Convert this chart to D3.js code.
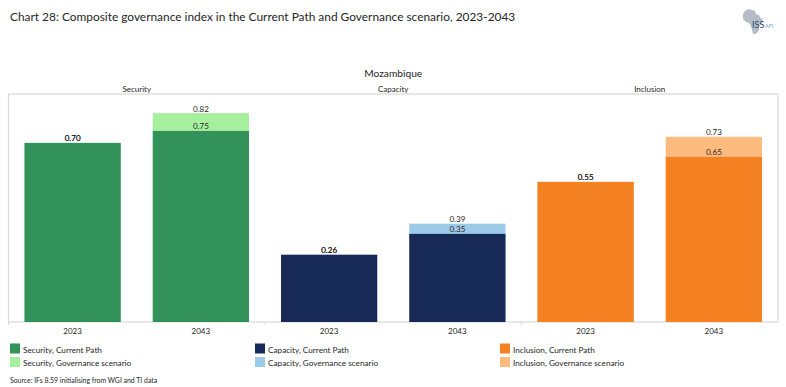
<!DOCTYPE html>
<html>
<head>
<meta charset="utf-8">
<script src="https://cdn.jsdelivr.net/npm/d3@7"></script>
<style>
  html, body { margin: 0; padding: 0; background: #fff; }
  svg { display: block; }
  text { font-family: Lato, "Open Sans", sans-serif; fill: #262626; }
</style>
</head>
<body>
<svg id="chart" width="786" height="387"></svg>
<script>
// Data (bar heights give the third decimal, labels show two)
const groups = ["Security", "Capacity", "Inclusion"];
const years = ["2023", "2043"];
const currentPath = [0.703, 0.75, 0.264, 0.346, 0.55, 0.648];
const governance = [0.703, 0.82, 0.264, 0.386, 0.55, 0.727];
const currentColors = ["#339259", "#172957", "#f58222"];
const governanceColors = ["#a5ef9d", "#9ecae9", "#ffbb7d"];

const svg = d3.select("#chart");
const frame = { left: 8.5, right: 778, top: 94, bottom: 322 };

// one row per bar, built from the arrays above
const rows = currentPath.map((v, i) => ({
    key: i,
    group: Math.floor(i / 2),
    year: years[i % 2],
    current: v,
    gov: governance[i]
}));

const x = d3.scaleBand().domain(rows.map(d => d.key))
    .range([frame.left, frame.right]).paddingInner(0.25).paddingOuter(0.125);
const y = d3.scaleLinear().domain([0, 0.895]).range([frame.bottom, frame.top]);
const groupX = d3.scaleBand().domain(groups).range([frame.left, frame.right]);

// Title
svg.append("text").attr("x", 10).attr("y", 21)
    .style("font-size", "11.9px")
    .text("Chart 28: Composite governance index in the Current Path and Governance scenario, 2023-2043");

// Logo (rough outline of Africa)
const logo = svg.append("g").attr("transform", "translate(743,8)");
logo.append("path").attr("fill", "#b4bcc8")
    .attr("d", "M1,4 L5,1 L9,2 L12,3 L13,6 L16,7 L18,11 L20,10 L19,15 L16,18 L16,21 L15,24 L12,26 L10,26 L9,22 L8,18 L6,15 L3,14 L0,11 L0,7 Z");
logo.append("text").attr("x", 9).attr("y", 20)
    .style("font-size", "9px").style("fill", "#2f4a6d").text("ISS");
logo.append("text").attr("x", 22).attr("y", 19.5)
    .style("font-size", "5.5px").style("fill", "#6aa9d8").text("AFI");

// Headings
svg.append("text").attr("x", (frame.left + frame.right) / 2).attr("y", 76.5)
    .attr("text-anchor", "middle").style("font-size", "10.2px").text("Mozambique");

svg.selectAll(".group-label").data(groups).enter().append("text")
    .attr("class", "group-label")
    .attr("x", d => groupX(d) + groupX.bandwidth() / 2)
    .attr("y", 92)
    .attr("text-anchor", "middle")
    .style("font-size", "8px")
    .text(d => d);

// Plot frame
svg.append("rect")
    .attr("x", frame.left).attr("y", frame.top)
    .attr("width", frame.right - frame.left).attr("height", frame.bottom - frame.top)
    .attr("fill", "none").attr("stroke", "#d9d9d9").attr("stroke-width", 1.2);

// Bars: scenario behind, current path in front
svg.selectAll(".bar-gov").data(rows).enter().append("rect")
    .attr("class", "bar-gov")
    .attr("x", d => x(d.key))
    .attr("y", d => y(d.gov))
    .attr("width", x.bandwidth())
    .attr("height", d => y(0) - y(d.gov))
    .attr("fill", d => governanceColors[d.group]);

svg.selectAll(".bar-cur").data(rows).enter().append("rect")
    .attr("class", "bar-cur")
    .attr("x", d => x(d.key))
    .attr("y", d => y(d.current))
    .attr("width", x.bandwidth())
    .attr("height", d => y(0) - y(d.current))
    .attr("fill", d => currentColors[d.group]);

// Value labels. Both series are labelled, so 2023 prints twice and reads heavier
const fmt = d3.format(".2f");
["gov", "current"].forEach(k => {
    svg.selectAll(".lab-" + k).data(rows).enter().append("text")
        .attr("class", "lab-" + k)
        .attr("x", d => x(d.key) + x.bandwidth() / 2)
        .attr("y", d => y(d[k]) - 1.5)
        .attr("text-anchor", "middle")
        .style("font-size", "8px")
        .text(d => fmt(d[k]));
});

// Year labels and ticks
svg.selectAll(".year").data(rows).enter().append("text")
    .attr("class", "year")
    .attr("x", d => x(d.key) + x.bandwidth() / 2)
    .attr("y", 333.5)
    .attr("text-anchor", "middle")
    .style("font-size", "8px")
    .text(d => d.year);

svg.selectAll(".group-tick").data(groups).enter().append("line")
    .attr("class", "group-tick")
    .attr("x1", d => groupX(d)).attr("x2", d => groupX(d))
    .attr("y1", frame.bottom).attr("y2", frame.bottom + 3)
    .attr("stroke", "#d9d9d9");

// Legend
const legendX = d3.scalePoint().domain(groups).range([10, 500]);
const legendRows = [
    { name: "Current Path", colors: currentColors, top: 343.5 },
    { name: "Governance scenario", colors: governanceColors, top: 357 }
];
legendRows.forEach(r => {
    groups.forEach((g, i) => {
        svg.append("rect")
            .attr("x", legendX(g)).attr("y", r.top)
            .attr("width", 10).attr("height", 10)
            .attr("fill", r.colors[i]);
        svg.append("text")
            .attr("x", legendX(g) + 13).attr("y", r.top + 9)
            .style("font-size", "8.2px")
            .text(g + ", " + r.name);
    });
});

// Source
svg.append("text").attr("x", 10).attr("y", 383)
    .style("font-size", "6.9px")
    .text("Source: IFs 8.59 initialising from WGI and TI data");
</script>
</body>
</html>
